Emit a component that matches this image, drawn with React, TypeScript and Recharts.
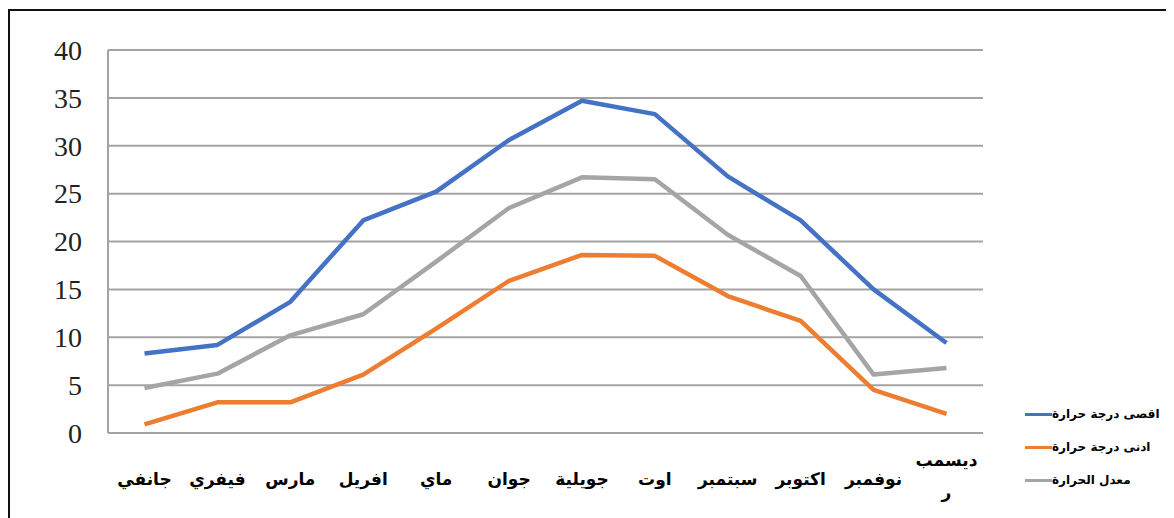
import { CartesianGrid, Line, LineChart, XAxis, YAxis } from 'recharts'

// Monthly temperatures (°C) — max / min / mean.
const months = ['جانفي', 'فيفري', 'مارس', 'افريل', 'ماي', 'جوان', 'جويلية', 'اوت', 'سبتمبر', 'اكتوبر', 'نوفمبر', 'ديسمبر']
// The last label wraps onto two lines in the source, like Excel did it.
const monthTickLines = [['جانفي'], ['فيفري'], ['مارس'], ['افريل'], ['ماي'], ['جوان'], ['جويلية'], ['اوت'], ['سبتمبر'], ['اكتوبر'], ['نوفمبر'], ['ديسمب', 'ر']]
const maxTemp = [8.3, 9.2, 13.7, 22.2, 25.2, 30.6, 34.7, 33.3, 26.8, 22.2, 15.0, 9.4]
const minTemp = [0.9, 3.2, 3.2, 6.1, 10.9, 15.9, 18.6, 18.5, 14.3, 11.7, 4.5, 2.0]
const meanTemp = [4.7, 6.2, 10.2, 12.4, 17.9, 23.5, 26.7, 26.5, 20.7, 16.4, 6.1, 6.8]
const yTicks = [0, 5, 10, 15, 20, 25, 30, 35, 40]

const seriesNames = {
  max: 'اقصى درجة حرارة',
  min: 'ادنى درجة حرارة',
  mean: 'معدل الحرارة',
}

const COLORS = { max: '#4472C4', min: '#ED7D31', mean: '#A5A5A5' }
const ARABIC_FONT = '"DejaVu Sans", sans-serif'

const data = months.map((m, i) => ({
  month: m,
  max: maxTemp[i],
  min: minTemp[i],
  mean: meanTemp[i],
}))

function MonthTick(props: any) {
  const { x, y, index } = props
  const lines = monthTickLines[index] ?? [props.payload?.value]
  // single-line labels sit ~46px under the axis; the wrapped one is pushed up
  const startY = lines.length > 1 ? y + 27 : y + 46
  return (
    <g>
      {lines.map((t: string, i: number) => (
        <text
          key={i}
          x={x}
          y={startY + i * 32}
          dy="0.35em"
          textAnchor="middle"
          direction="rtl"
          fill="#000"
          fontFamily={ARABIC_FONT}
          fontWeight={700}
          fontSize={17}
        >
          {t}
        </text>
      ))}
    </g>
  )
}

function TempTick(props: any) {
  const { x, y, payload } = props
  return (
    <text
      x={x}
      y={y}
      dy="0.35em"
      textAnchor="end"
      fill="#222"
      fontFamily='"Liberation Serif", serif'
      fontSize={28}
    >
      {payload.value}
    </text>
  )
}

// Plain HTML legend — Recharts' Legend kept shrinking the plot area.
function LegendBox() {
  const rows: Array<keyof typeof COLORS> = ['max', 'min', 'mean']
  return (
    <div style={{ position: 'absolute', left: 1015, top: 392, display: 'flex', flexDirection: 'column', gap: 11 }}>
      {rows.map((k) => (
        <div key={k} style={{ display: 'flex', alignItems: 'center', height: 22 }}>
          <span style={{ width: 27, height: 3, background: COLORS[k], display: 'inline-block' }} />
          <span
            style={{
              fontFamily: ARABIC_FONT,
              fontWeight: 700,
              fontSize: 12,
              color: '#000',
              direction: 'rtl',
              whiteSpace: 'nowrap',
            }}
          >
            {seriesNames[k]}
          </span>
        </div>
      ))}
    </div>
  )
}

export default function App() {
  return (
    <div
      style={{
        position: 'relative',
        marginTop: 1,
        width: 1164,
        height: 507,
        borderTop: '2px solid #111',
        borderLeft: '2px solid #111',
        background: '#fff',
      }}
    >
      <LineChart
        width={1164}
        height={507}
        data={data}
        margin={{ top: 39, right: 191, left: 0, bottom: 0 }}
      >
        <CartesianGrid vertical={false} stroke="#a3a3a3" strokeWidth={2} />
        <XAxis
          dataKey="month"
          height={85}
          tickSize={0}
          tickMargin={0}
          tick={<MonthTick />}
          interval={0}
          padding={{ left: 36.5, right: 36.5 }}
          axisLine={{ stroke: '#a3a3a3', strokeWidth: 2 }}
          tickLine={false}
        />
        <YAxis
          width={98}
          domain={[0, 40]}
          ticks={yTicks}
          tickSize={0}
          tickMargin={26}
          tick={<TempTick />}
          axisLine={{ stroke: '#a3a3a3', strokeWidth: 2 }}
          tickLine={false}
        />
        <Line dataKey="max" name={seriesNames.max} stroke={COLORS.max} strokeWidth={4.5} dot={false} type="linear" strokeLinejoin="round" isAnimationActive={false} />
        <Line dataKey="min" name={seriesNames.min} stroke={COLORS.min} strokeWidth={4.5} dot={false} type="linear" strokeLinejoin="round" isAnimationActive={false} />
        <Line dataKey="mean" name={seriesNames.mean} stroke={COLORS.mean} strokeWidth={4.5} dot={false} type="linear" strokeLinejoin="round" isAnimationActive={false} />
      </LineChart>
      <LegendBox />
    </div>
  )
}
